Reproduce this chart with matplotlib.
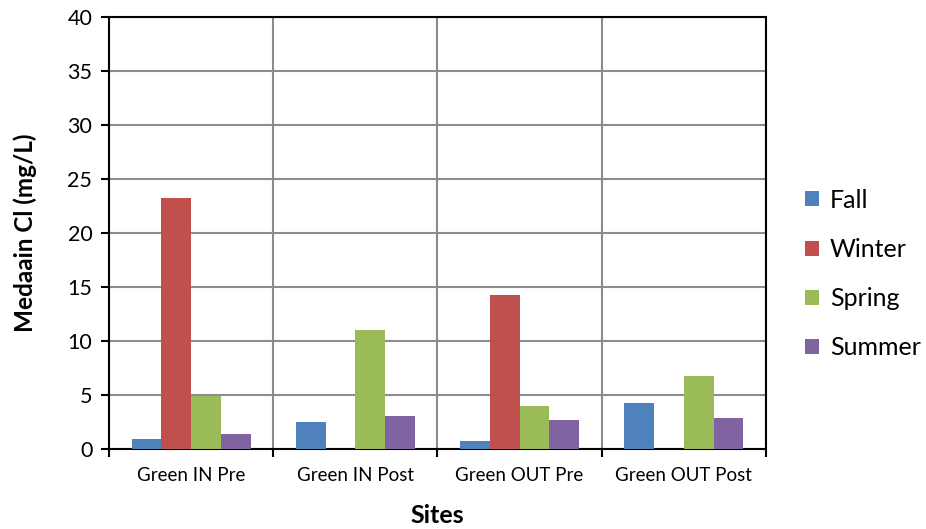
import numpy as np
import matplotlib.pyplot as plt
from matplotlib.ticker import FixedLocator

plt.rcParams['font.family'] = ['Lato', 'DejaVu Sans']

sites = ['Green IN Pre', 'Green IN Post', 'Green OUT Pre', 'Green OUT Post']
seasons = ['Fall', 'Winter', 'Spring', 'Summer']
fall = [0.9, 2.5, 0.7, 4.3]
winter = [23.2, 0, 14.3, 0]
spring = [4.9, 11.0, 4.0, 6.8]
summer = [1.4, 3.1, 2.7, 2.9]
colors = ['#4F81BD', '#C0504D', '#9BBB59', '#8064A2']

fig = plt.figure(figsize=(9.26, 5.29), dpi=100)
ax = fig.add_axes([0.1177, 0.1512, 0.7095, 0.8167])

x = np.arange(len(sites))
width = 0.181
for i, (vals, name) in enumerate(zip([fall, winter, spring, summer], seasons)):
    ax.bar(x + (i - 1.5) * width, vals, width, color=colors[i], label=name,
           linewidth=0, zorder=3)

ax.set_xlim(-0.5, 3.5)
ax.set_ylim(0, 40)
ax.set_yticks(np.arange(0, 41, 5))
ax.set_xticks(x)
ax.set_xticklabels(sites, fontsize=13.5)
ax.tick_params(axis='x', which='major', length=0, pad=13)
ax.xaxis.set_minor_locator(FixedLocator(np.arange(-0.5, 4, 1)))
ax.tick_params(axis='x', which='minor', length=6, width=1.5, direction='out', color='black')
ax.tick_params(axis='y', length=6, width=1.5, direction='out', labelsize=15.5, pad=6)

ax.grid(axis='y', which='major', color='#8c8c8c', linewidth=1.5, zorder=0)
ax.grid(axis='x', which='minor', color='#8c8c8c', linewidth=1.5, zorder=0)
ax.set_axisbelow(True)
for s in ax.spines.values():
    s.set_linewidth(1.5)
    s.set_color('black')

ax.set_xlabel('Sites', fontsize=18, fontweight='bold', labelpad=14)
ax.set_ylabel('Medaain Cl (mg/L)', fontsize=17.5, fontweight='bold', labelpad=22)

ax.legend(loc='center left', bbox_to_anchor=(1.025, 0.405), frameon=False,
          fontsize=18, handlelength=0.55, handleheight=0.55, labelspacing=1.05,
          handletextpad=0.45)

fig.savefig('out.png', dpi=100)
